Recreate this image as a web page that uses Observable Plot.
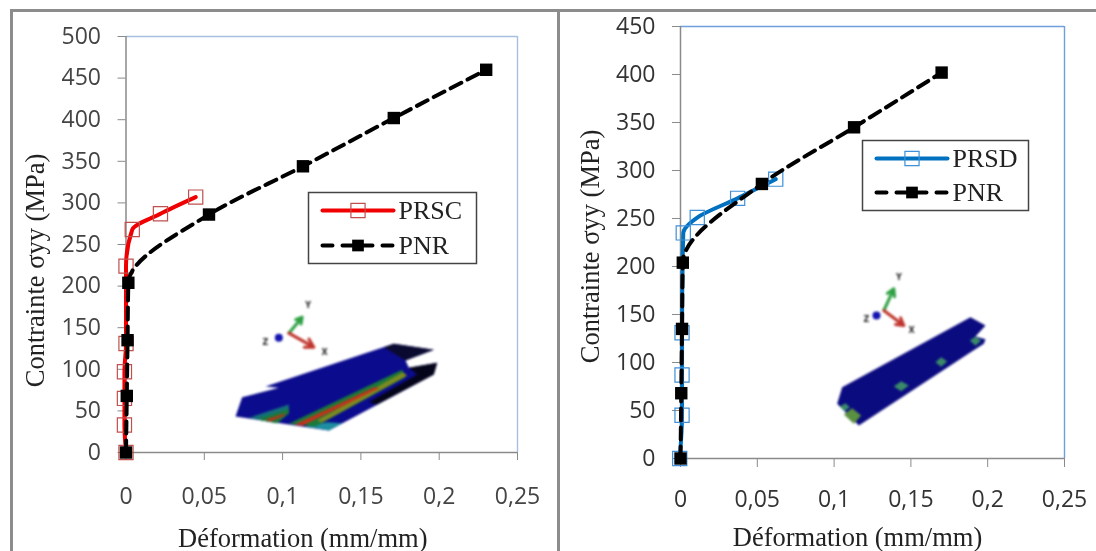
<!DOCTYPE html>
<html><head><meta charset="utf-8">
<script src="https://cdn.jsdelivr.net/npm/d3@7"></script>
<script src="https://cdn.jsdelivr.net/npm/@observablehq/plot@0.6"></script>
<style>
html,body{margin:0;padding:0;background:#fff;width:1096px;height:551px;overflow:hidden}
#page{position:relative;width:1096px;height:551px;overflow:hidden;background:#fff}
#page>*{position:absolute}
.line{background:#8c8c8c}
svg{background:transparent!important;overflow:visible}
.soft{filter:blur(.55px)}
.soft2{filter:blur(.3px)}
.pic{filter:blur(.9px)}
</style></head><body><div id="page"></div>
<script>
const xTicks=[0,0.05,0.1,0.15,0.2,0.25];
const pnrLeftX=[0,0.0005,0.001,0.0015,0.053,0.113,0.171,0.23];
const pnrLeftY=[0,68,135,204,286,344,402,460];
const pnrRightX=[0,0.0005,0.001,0.0015,0.053,0.113,0.17];
const pnrRightY=[0,68,135,204,286,345,402];
const prscX=[0,-0.001,-0.001,-0.001,0,0,0.004,0.022,0.0445];
const prscY=[0,33,65,97,131,224,268,287,307];
const prsdX=[-0.0005,0.001,0.001,0.001,0.0018,0.0109,0.0372,0.062];
const prsdY=[0,45,87,131,235,251,271,291];
const yTicksLeft=d3.range(0,501,50);
const yTicksRight=d3.range(0,451,50);
const inset1=[
 ["#0b0b8e",[[45,408],[65,350],[175,322],[135,318],[520,190],[640,208],[555,240],[565,262],[650,247],[640,282],[325,450],[125,420]]],
 ["#0a0a30",[[490,200],[520,190],[640,208],[555,240],[530,225]]],
 ["#05051a",[[565,262],[650,247],[640,282],[470,372],[445,365],[590,282]]],
 ["#15707a",[[85,412],[205,372],[205,398],[170,428],[125,420]]],
 ["#1b7a38",[[115,415],[205,385],[205,398],[170,428],[125,420]]],
 ["#c0301a",[[135,418],[195,398],[190,406],[150,423]]],
 ["#1d8fa0",[[255,438],[325,450],[365,428],[320,425]]],
 ["#1b7a38",[[205,430],[285,438],[555,290],[545,268]]],
 ["#7f8a20",[[290,420],[305,426],[560,285],[548,275]]],
 ["#c8301a",[[222,433],[245,436],[478,322],[462,320]]]
];
const inset2=[
 ["#0b0b80",[[80,430],[95,380],[480,170],[525,195],[495,228],[525,236],[520,250],[485,272],[145,495]]],
 ["#3a8a6a",[[250,378],[272,362],[295,375],[272,392]]],
 ["#3a8a6a",[[375,305],[392,290],[410,303],[392,319]]],
 ["#3a8a6a",[[478,240],[495,228],[512,240],[495,256]]],
 ["#5a9040",[[100,462],[125,443],[152,465],[130,490]]],
 ["#3a8a6a",[[88,438],[105,428],[118,440],[102,452]]]
];
const triad1=[[205,158],[245,110],[280,200],[175,172]];
const triad2=[[220,150],[250,85],[280,195],[198,165]];
const triadLabels1=[["Y",263,75],["Z",135,185],["X",312,217]];
const triadLabels2=[["Y",265,52],["Z",168,178],["X",303,210]];

const page=document.getElementById("page");
function box(l,t,w,h){const d=document.createElement("div");d.className="line";d.style.cssText=`left:${l}px;top:${t}px;width:${w}px;height:${h}px`;page.appendChild(d)}
box(10,9,1086,3);box(10,9,3,542);box(557,9,3,542);

const lab=d=>String(d).replace(".",",");
const pts=(xs,ys)=>xs.map((x,i)=>({x,y:ys[i]}));

function chart(c){
 const pnr=pts(c.nx,c.ny), ser=pts(c.sx,c.sy);
 const p=Plot.plot({
  width:c.w,height:551,marginLeft:c.ml,marginRight:c.mr,marginTop:c.mt,marginBottom:c.mb,
  style:{background:"transparent",overflow:"visible"},
  x:{domain:[0,0.25]},y:{domain:[0,c.ymax]},
  marks:[
   Plot.ruleY([c.ymax],{stroke:c.edge,strokeWidth:1.4}),
   Plot.ruleX([0.25],{stroke:c.edge,strokeWidth:1.4}),
   Plot.ruleX([0],{stroke:"#8a8a8a",strokeWidth:1.5}),
   Plot.ruleY([0],{stroke:"#8a8a8a",strokeWidth:1.5}),
   Plot.axisY({ticks:c.yt,tickSize:8,tickPadding:17,label:null,fontSize:23,fontFamily:"Open Sans",fill:c.ink,stroke:"#8a8a8a"}),
   Plot.axisX({ticks:xTicks,tickFormat:lab,tickSize:c.xts,tickPadding:c.xpad,label:null,fontSize:23,fontFamily:"Open Sans",fill:c.ink,stroke:"#8a8a8a"}),
   Plot.text(["Contrainte σyy (MPa)"],{frameAnchor:"left",dx:c.ytx-c.ml,dy:c.yty,rotate:-90,fontFamily:"Liberation Serif",fontSize:26.5,fill:"#222",textAnchor:"middle",text:d=>d}),
   Plot.text(["Déformation (mm/mm)"],{frameAnchor:"bottom",dx:c.xtx,dy:c.xty,fontFamily:"Liberation Serif",fontSize:26.5,fill:"#222",text:d=>d}),
   Plot.line(ser,{x:"x",y:"y",stroke:c.color,strokeWidth:4,curve:"monotone-y"}),
   Plot.dot(ser,{x:"x",y:"y",symbol:"square",r:8,stroke:c.dotStroke,strokeWidth:1.2,fill:"none"}),
   Plot.line(pnr,{x:"x",y:"y",stroke:"#000",strokeWidth:4,strokeDasharray:"12,7",curve:"monotone-y"}),
   Plot.dot(pnr,{x:"x",y:"y",symbol:"square",r:7,fill:"#000",stroke:"none"})
  ]
 });
 p.style.cssText=`left:${c.left}px;top:0;position:absolute`;
 p.setAttribute("class",(p.getAttribute("class")||"")+" "+c.cls);
 page.appendChild(p);
}
chart({left:0,w:557,ml:125.5,mr:40,mt:36,mb:99,ymax:500,yt:yTicksLeft,sx:prscX,sy:prscY,nx:pnrLeftX,ny:pnrLeftY,color:"#f00000",dotStroke:"#c0504d",edge:"#a9bfe0",ink:"#444",xts:8,xpad:27,ytx:35,yty:26,xtx:-19,xty:94,cls:"soft"});
chart({left:557,w:539,ml:123,mr:32,mt:26,mb:93,ymax:450,yt:yTicksRight,sx:prsdX,sy:prsdY,nx:pnrRightX,ny:pnrRightY,color:"#0070c0",dotStroke:"#3f90d8",edge:"#6f9fdc",ink:"#333",xts:9,xpad:23,ytx:33,yty:4,xtx:-15,xty:87,cls:"soft2"});

function legend(c){
 const W=c.w,H=c.h,x0=14,x1=85,xm=(x0+x1)/2;
 const p=Plot.plot({
  width:W,height:H,margin:0,style:{background:"#fff",overflow:"visible"},
  x:{domain:[0,W],axis:null},y:{domain:[H,0],axis:null},
  marks:[
   Plot.frame({stroke:"#444",strokeWidth:1.5}),
   Plot.line([[x0,c.r1],[x1,c.r1]],{stroke:c.color,strokeWidth:4,strokeLinecap:"round"}),
   Plot.dot([[xm,c.r1]],{symbol:"square",r:8,stroke:c.dotStroke,strokeWidth:1.2,fill:"none"}),
   Plot.line([[x0,c.r2],[x1,c.r2]],{stroke:"#000",strokeWidth:4,strokeDasharray:"10,10",strokeLinecap:"round"}),
   Plot.dot([[xm,c.r2]],{symbol:"square",r:6.6,fill:"#000",stroke:"none"}),
   Plot.text([[90,c.r1,c.name],[90,c.r2,"PNR"]],{x:d=>d[0],y:d=>d[1],text:d=>d[2],textAnchor:"start",fontFamily:"Liberation Serif",fontSize:26,fill:"#222"})
  ]
 });
 p.style.cssText=`left:${c.l}px;top:${c.t}px;position:absolute`;
 p.setAttribute("class",(p.getAttribute("class")||"")+" "+c.cls);
 page.appendChild(p);
}
legend({l:308,t:192,w:168,h:71,r1:18,r2:53,name:"PRSC",color:"#f00000",dotStroke:"#c0504d",cls:"soft"});
legend({l:862,t:140,w:166,h:70,r1:18,r2:52,name:"PRSD",color:"#0070c0",dotStroke:"#3f90d8",cls:"soft2"});

function inset(c){
 const arrow=(a,b,col)=>Plot.arrow([[a,b]],{x1:d=>d[0][0],y1:d=>d[0][1],x2:d=>d[1][0],y2:d=>d[1][1],stroke:col,strokeWidth:3,headLength:6});
 const p=Plot.plot({
  width:c.w,height:c.h,margin:0,style:{background:"transparent",overflow:"visible"},
  x:{domain:[0,c.w*3],axis:null},y:{domain:[c.h*3,0],axis:null},
  marks:[
   ...c.polys.map(([fill,pp])=>Plot.line(pp,{fill,stroke:"none",curve:"linear-closed"})),
   arrow(c.t[0],c.t[1],"#2ea043"),
   arrow(c.t[0],c.t[2],"#c0342c"),
   Plot.dot([c.t[3]],{r:4,fill:"#1414b0"}),
   Plot.text(c.l,{x:d=>d[1],y:d=>d[2],text:d=>d[0],fontSize:8,fontWeight:"bold",fontFamily:"DejaVu Sans",fill:"#222"})
  ]
 });
 p.style.cssText=`left:${c.left}px;top:${c.top}px;position:absolute`;
 p.setAttribute("class",(p.getAttribute("class")||"")+" pic");
 page.appendChild(p);
}
inset({left:220,top:280,w:240,h:170,polys:inset1,t:triad1,l:triadLabels1});
inset({left:810,top:260,w:200,h:180,polys:inset2,t:triad2,l:triadLabels2});
</script></body></html>
